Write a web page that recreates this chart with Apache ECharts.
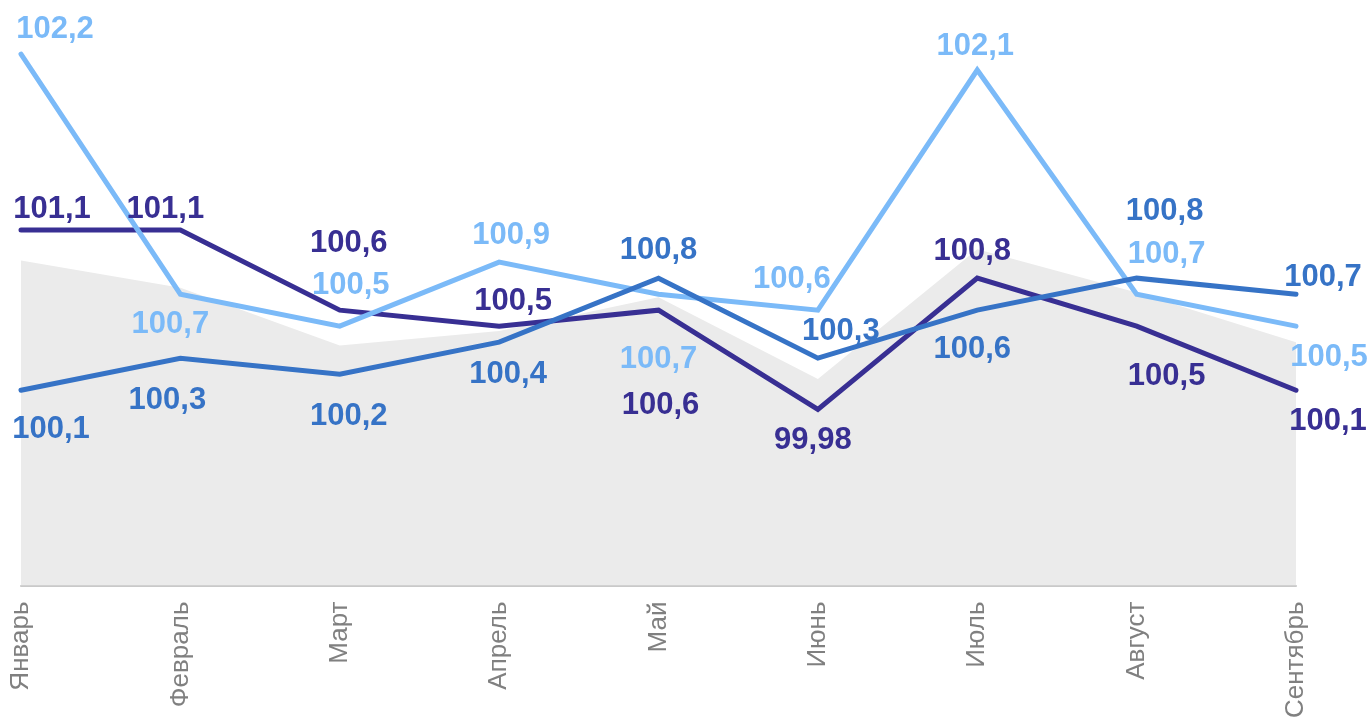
<!DOCTYPE html>
<html lang="ru">
<head>
<meta charset="UTF-8">
<title>Индексы по месяцам</title>
<script src="https://cdn.jsdelivr.net/npm/echarts@6/dist/echarts.min.js"></script>
<style>
  html, body { margin: 0; padding: 0; background: #fff; }
  #main { width: 1371px; height: 721px; }
</style>
</head>
<body>
<div id="main"></div>
<script>
// данные
var months = ['Январь', 'Февраль', 'Март', 'Апрель', 'Май', 'Июнь', 'Июль', 'Август', 'Сентябрь'];
var lightSeries = [102.2, 100.7, 100.5, 100.9, 100.7, 100.6, 102.1, 100.7, 100.5];
var navySeries = [101.1, 101.1, 100.6, 100.5, 100.6, 99.98, 100.8, 100.5, 100.1];
var blueSeries = [100.1, 100.3, 100.2, 100.4, 100.8, 100.3, 100.6, 100.8, 100.7];
var greySeries = [100.91, 100.74, 100.38, 100.47, 100.68, 100.17, 100.98, 100.71, 100.4];

// смещения подписей [dx, dy] от точки
var lightOffsets = [[34, -27], [-10, 28], [11, -43], [12, -29], [0, 63], [-26, -33], [-2, -26], [30, -42], [33, 29]];
var navyOffsets = [[31, -23], [-15, -23], [9, -69], [14, -27], [2, 93], [-5, 29], [-5, -29], [30, 48], [32, 29]];
var blueOffsets = [[30, 37], [-13, 40], [9, 40], [9, 30], [0, -30], [23, -29], [-5, 37], [28, -69], [27, -19]];

function fmt(v) {
    return String(v).replace('.', ',');
}

function withLabels(values, offsets) {
    var out = [];
    for (var i = 0; i < values.length; i++) {
        out.push({ value: values[i], label: { offset: [offsets[i][0], offsets[i][1] + 2] } });
    }
    return out;
}

function lineSeries(name, color, values, offsets) {
    return {
        name: name,
        type: 'line',
        data: withLabels(values, offsets),
        symbol: 'circle',
        symbolSize: 1,
        itemStyle: { color: 'rgba(0,0,0,0)' },
        lineStyle: { color: color, width: 5, cap: 'round', join: 'miter' },
        label: {
            show: true,
            position: 'inside',
            align: 'center',
            verticalAlign: 'middle',
            color: color,
            fontFamily: 'Liberation Sans, Arial, sans-serif',
            fontWeight: 'bold',
            fontSize: 31,
            formatter: function (p) { return fmt(p.value); }
        },
        emphasis: { disabled: true },
        animation: false
    };
}

var myChart = echarts.init(document.getElementById('main'));
myChart.setOption({
    backgroundColor: '#ffffff',
    grid: { left: 21, right: 75, top: 22, bottom: 134, containLabel: false },
    xAxis: {
        type: 'category',
        data: months,
        boundaryGap: false,
        axisLine: { lineStyle: { color: '#c9c9c9', width: 2 } },
        axisTick: { show: false },
        axisLabel: {
            rotate: 90,
            margin: 16,
            color: '#808080',
            fontSize: 26,
            fontFamily: 'Liberation Sans, Arial, sans-serif'
        },
        splitLine: { show: false }
    },
    yAxis: {
        type: 'value',
        min: 98.88,
        max: 102.4,
        show: false,
        splitLine: { show: false }
    },
    series: [
        {
            name: 'фон',
            type: 'line',
            data: greySeries,
            symbol: 'none',
            lineStyle: { width: 0 },
            areaStyle: { color: '#ebebeb', opacity: 1 },
            silent: true,
            animation: false,
            z: 1
        },
        lineSeries('navy', '#382f93', navySeries, navyOffsets),
        lineSeries('light', '#7bbaf8', lightSeries, lightOffsets),
        lineSeries('blue', '#3673c6', blueSeries, blueOffsets)
    ]
});

window.addEventListener('resize', function () {
    myChart.resize();
});
</script>
</body>
</html>
